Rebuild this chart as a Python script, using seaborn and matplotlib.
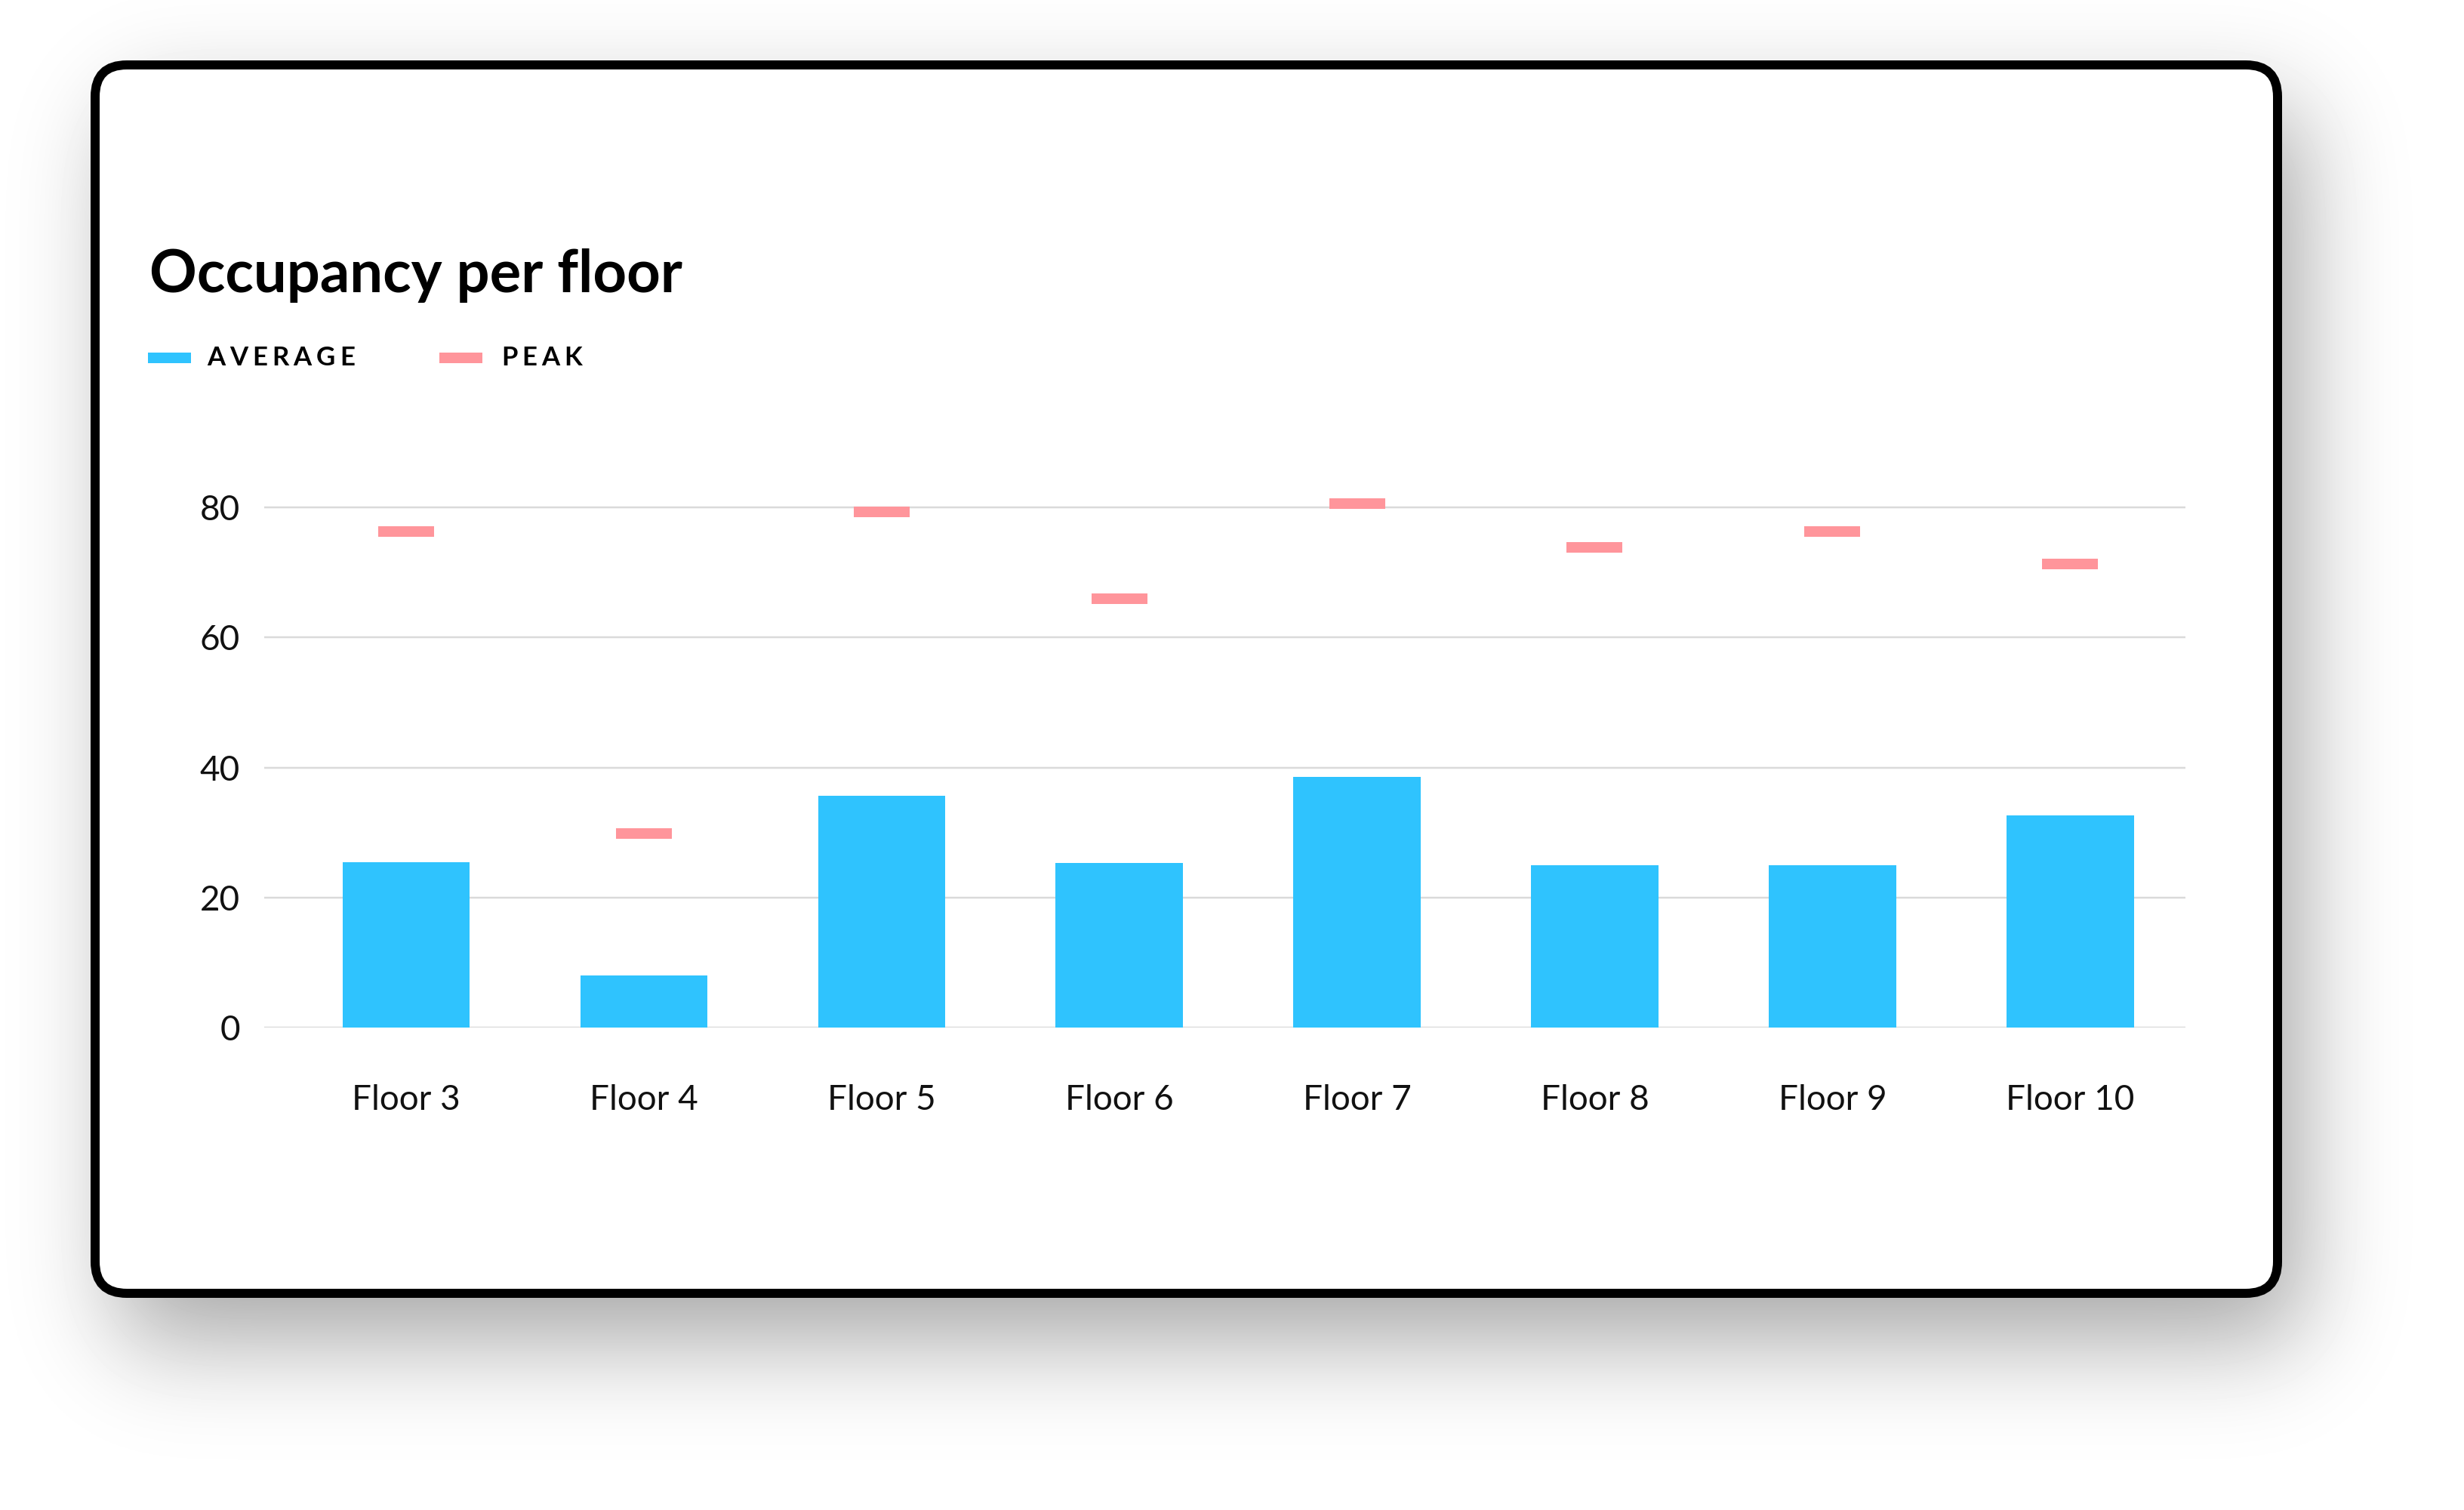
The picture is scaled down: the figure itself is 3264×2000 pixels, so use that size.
import math
import numpy as np
import pandas as pd
import matplotlib
matplotlib.use("Agg")
import matplotlib.pyplot as plt
from matplotlib.patches import FancyBboxPatch, Rectangle
from matplotlib.font_manager import FontProperties
import seaborn as sns

# data
floors = ["Floor 3", "Floor 4", "Floor 5", "Floor 6", "Floor 7", "Floor 8", "Floor 9", "Floor 10"]
average = [25.4, 8.0, 35.6, 25.3, 38.6, 25.0, 25.0, 32.6]
peak = [76.3, 29.9, 79.3, 66.0, 80.6, 73.9, 76.3, 71.3]
y_ticks = [0, 20, 40, 60, 80]
legend_labels = ["AVERAGE", "PEAK"]

BLUE = "#2FC3FE"
PINK = "#FF959B"
GRID = "#DADADA"

W, H, DPI = 3264, 2000, 200
PT = 72 / DPI  # points per pixel

sns.set_theme(style="white")
plt.rcParams["font.family"] = ["Lato", "DejaVu Sans"]

fig = plt.figure(figsize=(W / DPI, H / DPI), dpi=DPI)

# ---- background layer, drawn in pixel units ----
bg = fig.add_axes([0, 0, 1, 1], zorder=0)

# card border centre line
cx0, cy0, cx1, cy1 = 126, 86, 3017, 1713


def soft_edge(n, a, b, s):
    t = np.arange(n) + 0.5
    erf = np.vectorize(math.erf)
    return 0.5 * (erf((t - a) / (s * 2 ** 0.5)) - erf((t - b) / (s * 2 ** 0.5)))


sx = soft_edge(W, cx0 + 30, cx1 + 30, 65)
sy = soft_edge(H, cy0 + 60, cy1 + 60, 70)
shade = 1 - 0.36 * np.outer(sy, sx)
bg.imshow(shade, cmap="gray", vmin=0, vmax=1, extent=(0, W, H, 0),
          interpolation="bilinear", aspect="auto", zorder=0)

card = FancyBboxPatch((cx0, cy0), cx1 - cx0, cy1 - cy0,
                      boxstyle="round,pad=0,rounding_size=42",
                      facecolor="white", edgecolor="black", linewidth=12 * PT, zorder=1)
bg.add_patch(card)

bg.set_xlim(0, W)
bg.set_ylim(H, 0)
bg.axis("off")

# title
bg.text(198, 387, "Occupancy per floor", fontsize=28, fontweight="bold",
        color="black", va="baseline", ha="left", zorder=3)

# legend with letter spacing
renderer = fig.canvas.get_renderer()
leg_font = FontProperties(family=["Lato", "DejaVu Sans"], weight="bold", size=12.5)


def spaced_text(x, y, s, spacing):
    for ch in s:
        bg.text(x, y, ch, fontproperties=leg_font, color="black",
                va="baseline", ha="left", zorder=3)
        w, _, _ = renderer.get_text_width_height_descent(ch, leg_font, ismath=False)
        x += w + spacing


for (sw_x, tx), label, col in zip([(196, 274), (582, 664)], legend_labels, [BLUE, PINK]):
    bg.add_patch(Rectangle((sw_x, 467), 57, 14, facecolor=col, edgecolor="none", zorder=3))
    spaced_text(tx, 484, label, 6)

# ---- chart ----
df = pd.DataFrame({"floor": floors, "average": average, "peak": peak})

ax = fig.add_axes([350 / W, (H - 1361) / H, 2545 / W, (1361 - 637.6) / H], zorder=2)
ax.patch.set_alpha(0)

sns.barplot(data=df, x="floor", y="average", color=BLUE, width=0.535,
            saturation=1, linewidth=0, ax=ax)

xs = np.arange(len(floors))
ax.hlines(df["peak"], xs - 0.1175, xs + 0.1175, colors=PINK,
          linewidth=14 * PT, zorder=4)

ax.set_xlim(-0.597, 7.485)
ax.set_ylim(0, 84)
ax.set_yticks(y_ticks)
ax.yaxis.grid(True, color=GRID, linewidth=2.5 * PT)
ax.xaxis.grid(False)
ax.set_axisbelow(True)
for sp in ax.spines.values():
    sp.set_visible(False)
ax.set_xlabel("")
ax.set_ylabel("")
ax.tick_params(axis="y", length=0, labelsize=16.5, pad=11.5, labelcolor="#111111")
ax.tick_params(axis="x", length=0, labelsize=16.5, pad=27, labelcolor="#111111")

fig.savefig("out.png", dpi=DPI)
